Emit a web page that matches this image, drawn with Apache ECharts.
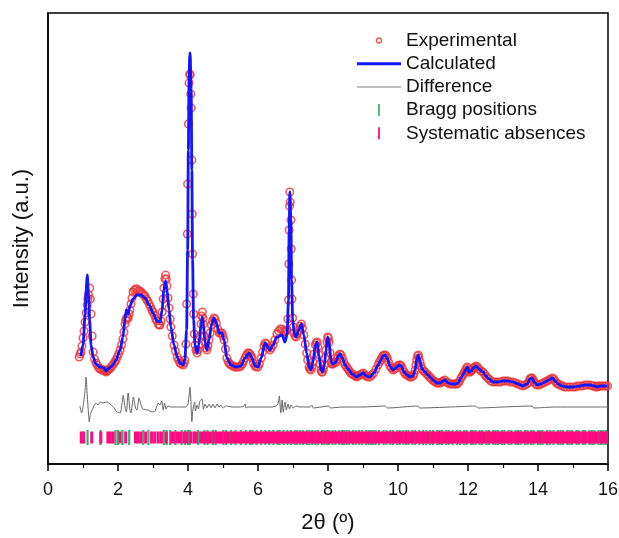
<!DOCTYPE html>
<html>
<head>
<meta charset="utf-8">
<script src="https://cdn.jsdelivr.net/npm/echarts@6/dist/echarts.min.js"></script>
<style>
  html, body { margin: 0; padding: 0; background: #fff; }
  #chart { width: 619px; height: 538px; }
</style>
</head>
<body>
<div id="chart"></div>
<script>
// Powder pattern: 2θ (degrees) against intensity (arbitrary units)
const calculated = [
  [0.94,108],[1.00,119],[1.06,149],[1.09,174],[1.12,189],[1.16,169],[1.19,144],[1.23,119],[1.29,107],[1.37,100],
  [1.49,97],[1.60,96],[1.66,93],[1.71,95],[1.83,98],[1.94,104],[2.06,114],[2.14,127],[2.20,144],[2.24,154],
  [2.29,150],[2.34,158],[2.43,165],[2.54,169],[2.66,169],[2.77,166],[2.89,159],[3.00,151],[3.11,143],[3.20,142],
  [3.26,154],[3.31,174],[3.36,183],[3.40,174],[3.46,154],[3.51,137],[3.60,119],[3.69,107],[3.77,101],[3.86,99],
  [3.91,104],[3.96,134],[3.99,214],[4.01,314],[4.03,384],[4.05,409],[4.06,411],[4.09,374],[4.11,294],[4.13,204],
  [4.16,144],[4.20,119],[4.26,111],[4.31,119],[4.37,139],[4.41,147],[4.44,139],[4.49,121],[4.54,114],[4.60,124],
  [4.67,139],[4.74,146],[4.81,141],[4.89,131],[4.97,131],[5.03,124],[5.11,106],[5.23,99],[5.37,97],[5.51,98],
  [5.63,106],[5.74,111],[5.83,106],[5.91,98],[6.00,97],[6.09,106],[6.20,121],[6.34,114],[6.43,119],[6.54,127],
  [6.69,129],[6.77,122],[6.83,129],[6.87,164],[6.89,234],[6.91,272],[6.94,244],[6.96,184],[6.99,146],[7.03,131],
  [7.09,127],[7.16,134],[7.24,140],[7.31,129],[7.39,111],[7.46,97],[7.51,94],[7.57,102],[7.64,119],[7.69,122],
  [7.74,109],[7.80,94],[7.84,92],[7.90,99],[7.94,114],[7.99,127],[8.03,122],[8.09,102],[8.14,100],[8.23,102],
  [8.29,108],[8.34,110],[8.41,106],[8.49,99],[8.57,95],[8.69,90],[8.82,87],[8.91,89],[9.01,91],[9.09,88],
  [9.20,87],[9.31,91],[9.43,99],[9.51,104],[9.57,108],[9.63,109],[9.69,106],[9.77,98],[9.86,94],[9.94,96],
  [10.03,99],[10.09,98],[10.17,92],[10.26,89],[10.34,87],[10.43,88],[10.49,94],[10.53,104],[10.58,109],[10.63,102],
  [10.69,95],[10.77,92],[10.86,89],[10.94,86],[11.03,83],[11.11,81],[11.20,81],[11.29,83],[11.34,84],[11.43,81],
  [11.53,80],[11.63,80],[11.72,81],[11.80,86],[11.87,90],[11.93,94],[11.98,97],[12.03,92],[12.09,93],[12.16,96],
  [12.23,98],[12.31,95],[12.43,92],[12.51,88],[12.60,85],[12.71,82],[12.86,82],[13.00,83],[13.14,83],[13.29,82],
  [13.43,80],[13.57,78],[13.69,80],[13.77,85],[13.83,86],[13.89,82],[13.97,79],[14.09,80],[14.20,82],[14.31,84],
  [14.41,86],[14.49,83],[14.57,80],[14.69,78],[14.83,77],[15.00,77],[15.20,78],[15.34,79],[15.49,79],[15.60,78],
  [15.69,77],[15.77,78],[15.89,78],[15.97,78]
];

const experimental = [
  [0.89,107],[0.92,110],[0.94,112],[0.97,118],[1.00,126],[1.03,133],[1.06,142],[1.09,151],[1.12,159],[1.14,165],
  [1.16,169],[1.19,176],[1.21,165],[1.23,150],[1.26,128],[1.29,112],[1.33,105],[1.37,101],[1.41,99],[1.45,96],
  [1.49,95],[1.53,94],[1.57,94],[1.60,94],[1.63,93],[1.66,92],[1.69,93],[1.71,94],[1.75,95],[1.79,96],
  [1.83,98],[1.87,100],[1.91,102],[1.94,104],[1.98,107],[2.02,110],[2.06,114],[2.10,119],[2.14,125],[2.17,132],
  [2.20,140],[2.22,144],[2.24,146],[2.27,146],[2.29,146],[2.32,150],[2.34,154],[2.37,160],[2.40,166],[2.43,172],
  [2.47,174],[2.51,175],[2.54,175],[2.58,173],[2.62,173],[2.66,172],[2.70,170],[2.74,169],[2.77,168],[2.81,165],
  [2.85,163],[2.89,160],[2.93,157],[2.97,154],[3.00,152],[3.04,149],[3.08,145],[3.11,143],[3.15,140],[3.18,139],
  [3.20,139],[3.23,143],[3.26,152],[3.29,165],[3.31,176],[3.34,185],[3.36,189],[3.38,185],[3.40,178],[3.43,166],
  [3.46,156],[3.49,145],[3.51,137],[3.55,128],[3.60,119],[3.64,113],[3.69,107],[3.73,104],[3.77,101],[3.81,100],
  [3.86,99],[3.89,101],[3.91,104],[3.94,120],[3.96,160],[3.98,230],[3.99,280],[4.01,340],[4.03,381],[4.05,390],
  [4.06,389],[4.08,370],[4.09,356],[4.11,304],[4.12,250],[4.13,210],[4.15,170],[4.16,150],[4.18,130],[4.20,119],
  [4.23,114],[4.26,111],[4.28,114],[4.31,119],[4.34,128],[4.37,140],[4.39,148],[4.41,152],[4.43,146],[4.44,140],
  [4.47,128],[4.49,121],[4.52,116],[4.54,114],[4.57,118],[4.60,124],[4.63,131],[4.67,139],[4.70,143],[4.74,146],
  [4.77,145],[4.81,141],[4.85,135],[4.89,131],[4.93,131],[4.97,131],[5.00,128],[5.03,124],[5.07,115],[5.11,106],
  [5.15,102],[5.19,100],[5.23,99],[5.28,98],[5.33,97],[5.37,97],[5.42,97],[5.47,97],[5.51,98],[5.55,100],
  [5.59,103],[5.63,106],[5.67,109],[5.71,111],[5.74,111],[5.77,110],[5.80,108],[5.83,106],[5.87,101],[5.91,98],
  [5.95,97],[6.00,97],[6.04,100],[6.09,106],[6.13,112],[6.17,118],[6.20,121],[6.24,120],[6.29,116],[6.34,114],
  [6.38,116],[6.43,119],[6.48,124],[6.54,130],[6.59,133],[6.64,135],[6.69,135],[6.73,133],[6.77,132],[6.80,133],
  [6.83,134],[6.85,145],[6.87,164],[6.88,200],[6.89,234],[6.90,258],[6.91,272],[6.92,262],[6.94,244],[6.95,215],
  [6.96,184],[6.97,165],[6.99,146],[7.01,137],[7.03,131],[7.06,128],[7.09,127],[7.12,130],[7.16,134],[7.20,138],
  [7.24,140],[7.27,136],[7.31,129],[7.35,120],[7.39,111],[7.42,104],[7.46,97],[7.48,95],[7.51,94],[7.54,97],
  [7.57,102],[7.60,110],[7.64,119],[7.66,121],[7.69,122],[7.71,117],[7.74,109],[7.77,100],[7.80,94],[7.82,92],
  [7.84,92],[7.87,95],[7.90,99],[7.92,106],[7.94,114],[7.97,122],[7.99,127],[8.01,126],[8.03,122],[8.06,111],
  [8.09,102],[8.11,100],[8.14,100],[8.18,101],[8.23,102],[8.26,105],[8.29,108],[8.34,110],[8.37,109],[8.41,106],
  [8.45,102],[8.49,99],[8.53,97],[8.57,95],[8.61,93],[8.65,91],[8.69,90],[8.73,89],[8.78,88],[8.82,87],
  [8.86,88],[8.91,89],[8.96,90],[9.01,91],[9.05,89],[9.09,88],[9.14,87],[9.20,87],[9.25,89],[9.31,91],
  [9.37,95],[9.43,99],[9.47,102],[9.51,104],[9.54,106],[9.57,108],[9.60,109],[9.63,109],[9.66,108],[9.69,106],
  [9.73,102],[9.77,98],[9.81,96],[9.86,94],[9.90,95],[9.94,96],[9.98,98],[10.03,99],[10.06,99],[10.09,98],
  [10.13,95],[10.17,92],[10.21,90],[10.26,89],[10.30,88],[10.34,87],[10.38,87],[10.43,88],[10.46,90],[10.49,94],
  [10.51,99],[10.53,104],[10.56,108],[10.58,109],[10.60,106],[10.63,102],[10.66,98],[10.69,95],[10.73,93],[10.77,92],
  [10.82,90],[10.86,89],[10.90,87],[10.94,86],[10.98,84],[11.03,83],[11.07,82],[11.11,81],[11.16,81],[11.20,81],
  [11.25,82],[11.29,83],[11.34,84],[11.38,82],[11.43,81],[11.48,80],[11.53,80],[11.58,80],[11.63,80],[11.68,80],
  [11.72,81],[11.76,83],[11.80,86],[11.84,88],[11.87,90],[11.90,92],[11.93,94],[11.96,96],[11.98,97],[12.01,94],
  [12.03,92],[12.06,92],[12.09,93],[12.12,94],[12.16,96],[12.20,97],[12.23,98],[12.27,97],[12.31,95],[12.37,93],
  [12.43,92],[12.47,90],[12.51,88],[12.56,86],[12.60,85],[12.65,83],[12.71,82],[12.78,82],[12.86,82],[12.93,82],
  [13.00,83],[13.07,83],[13.14,83],[13.21,82],[13.29,82],[13.36,81],[13.43,80],[13.50,79],[13.57,78],[13.63,79],
  [13.69,80],[13.73,82],[13.77,85],[13.80,86],[13.83,86],[13.86,84],[13.89,82],[13.93,80],[13.97,79],[14.03,79],
  [14.09,80],[14.15,81],[14.20,82],[14.26,83],[14.31,84],[14.36,85],[14.41,86],[14.45,85],[14.49,83],[14.53,81],
  [14.57,80],[14.63,79],[14.69,78],[14.76,77],[14.83,77],[14.91,77],[15.00,77],[15.07,77],[15.13,78],[15.20,78],
  [15.27,78],[15.34,79],[15.41,79],[15.49,79],[15.55,78],[15.60,78],[15.65,77],[15.69,77],[15.73,78],[15.77,78],
  [15.83,78],[15.89,78],[15.94,78],[15.99,78]
];

// Observed minus calculated, drawn on its own offset baseline
const difference = [
  [0.91,58],[0.96,51],[1.01,59],[1.06,74],[1.09,87],[1.12,69],[1.16,49],[1.18,42],[1.21,50],[1.26,54],
  [1.31,58],[1.37,61],[1.43,59],[1.49,62],[1.57,61],[1.69,62],[1.77,60],[1.89,56],[1.97,52],[2.06,51],
  [2.11,59],[2.15,69],[2.20,57],[2.24,52],[2.29,71],[2.34,54],[2.37,51],[2.44,67],[2.50,56],[2.54,54],
  [2.60,66],[2.66,59],[2.71,55],[2.86,54],[2.97,52],[3.06,53],[3.11,58],[3.15,61],[3.20,59],[3.25,63],
  [3.29,54],[3.33,61],[3.37,55],[3.43,58],[3.49,57],[3.63,57],[3.83,57],[3.94,57],[4.00,60],[4.06,77],
  [4.11,42],[4.14,54],[4.19,62],[4.21,53],[4.26,59],[4.30,55],[4.34,63],[4.40,65],[4.44,55],[4.49,60],
  [4.54,56],[4.60,60],[4.66,56],[4.71,60],[4.77,56],[4.83,60],[4.89,57],[4.94,59],[5.00,56],[5.09,58],
  [5.26,57],[5.49,57],[5.60,58],[5.63,60],[5.66,56],[5.71,57],[6.06,57],[6.40,57],[6.51,58],[6.57,60],
  [6.61,68],[6.65,51],[6.69,64],[6.72,52],[6.77,62],[6.81,54],[6.86,60],[6.90,55],[6.94,59],[7.00,56],
  [7.09,58],[7.20,57],[7.49,57],[7.54,59],[7.58,56],[7.80,57],[8.02,58],[8.06,56],[8.40,57],[9.00,57],
  [9.62,58],[9.70,56],[10.57,58],[10.62,56],[11.50,57],[12.20,58],[12.30,56],[13.00,57],[13.83,58],[13.88,56],
  [14.50,57],[15.20,57],[16.00,57]
];

// Reflection markers (2θ positions)
const braggPositions = [
  1.13, 1.50, 1.93, 2.00, 2.13, 2.32, 2.72, 2.87, 3.31, 3.39, 3.49, 3.64, 3.82, 3.92, 4.00, 4.05, 4.29, 4.47, 4.56,
  4.71, 4.79, 5.01, 5.09, 5.23, 5.36, 5.51, 5.65, 5.77, 5.84, 5.96, 6.09, 6.21, 6.32, 6.44, 6.56, 6.62, 6.73, 6.84,
  6.94, 7.05, 7.12, 7.21, 7.29, 7.40, 7.47, 7.55, 7.64, 7.71, 7.83, 7.90, 7.97, 8.03, 8.13, 8.21, 8.32, 8.40, 8.46,
  8.53, 8.60, 8.71, 8.79, 8.89, 8.97, 9.09, 9.16, 9.22, 9.29, 9.36, 9.46, 9.59, 9.67, 9.78, 9.85, 9.98, 10.05, 10.15,
  10.23, 10.30, 10.41, 10.49, 10.61, 10.72, 10.81, 10.92, 11.00, 11.12, 11.19, 11.26, 11.38, 11.45, 11.56, 11.69,
  11.77, 11.89, 11.96, 12.09, 12.15, 12.22, 12.33, 12.40, 12.53, 12.60, 12.72, 12.79, 12.86, 12.97, 13.04, 13.16,
  13.24, 13.36, 13.43, 13.50, 13.63, 13.70, 13.80, 13.87, 14.00, 14.07, 14.13, 14.26, 14.34, 14.44, 14.57, 14.64,
  14.71, 14.84, 14.90, 14.97, 15.10, 15.16, 15.28, 15.35, 15.47, 15.54, 15.61, 15.73, 15.80, 15.87, 15.94
];

const absencePositions = [
  0.95, 1.02, 1.25, 1.51, 1.71, 1.78, 1.86, 2.06, 2.22, 2.50, 2.57, 2.65, 2.79, 2.96, 3.05, 3.15, 3.24, 3.38, 3.53,
  3.60, 3.70, 3.78, 3.88, 3.97, 4.08, 4.17, 4.24, 4.36, 4.44, 4.52, 4.60, 4.66, 4.75, 4.83, 4.90, 4.97, 5.06, 5.12,
  5.18, 5.27, 5.33, 5.40, 5.47, 5.55, 5.61, 5.68, 5.74, 5.80, 5.87, 5.93, 5.99, 6.05, 6.12, 6.18, 6.24, 6.29, 6.35,
  6.41, 6.47, 6.53, 6.58, 6.64, 6.70, 6.75, 6.81, 6.87, 6.92, 6.97,
  7.02, 7.07, 7.15, 7.19, 7.26, 7.33, 7.36, 7.44, 7.50, 7.57, 7.61, 7.69, 7.75, 7.80, 7.88, 7.92, 7.99, 8.06, 8.10,
  8.18, 8.25, 8.29, 8.37, 8.42, 8.50, 8.55, 8.63, 8.68, 8.74, 8.82, 8.86, 8.94, 9.01, 9.05, 9.13, 9.19, 9.24, 9.32,
  9.38, 9.43, 9.51, 9.56, 9.64, 9.70, 9.74, 9.82, 9.88, 9.93, 10.01, 10.07, 10.12, 10.20, 10.25, 10.33, 10.39, 10.44,
  10.52, 10.57, 10.65, 10.70, 10.76, 10.84, 10.89, 10.97, 11.02, 11.08, 11.16, 11.21, 11.29, 11.34, 11.41, 11.48,
  11.53, 11.61, 11.66, 11.73, 11.80, 11.85, 11.93, 11.98, 12.05, 12.12, 12.17, 12.25, 12.30, 12.37, 12.44, 12.49,
  12.57, 12.62, 12.69, 12.76, 12.81, 12.89, 12.94, 13.01, 13.08, 13.13, 13.21, 13.26, 13.33, 13.40, 13.45, 13.53,
  13.58, 13.65, 13.72, 13.77, 13.85, 13.90, 13.97, 14.04, 14.09, 14.17, 14.22, 14.29, 14.36, 14.41, 14.49, 14.54,
  14.61, 14.68, 14.73, 14.81, 14.86, 14.93, 15.00, 15.05, 15.13, 15.18, 15.25, 15.32, 15.37, 15.45, 15.50, 15.57,
  15.64, 15.69, 15.77, 15.82, 15.89, 15.96
];

// Vertical extent of each marker row, in intensity units
const braggRow = [19, 34];
const absenceRow = [20.5, 32.5];

const FONT = '"Liberation Sans", Arial, Helvetica, sans-serif';
const RED = '#ee3535';
const BLUE = '#1414ff';
const GREEN = '#35b36e';
const PINK = '#ff0a80';

function markerRenderer(row, width) {
  return function (params, api) {
    const x = api.value(0);
    const top = api.coord([x, row[1]]);
    const bottom = api.coord([x, row[0]]);
    return {
      type: 'rect',
      shape: { x: top[0] - width / 2, y: top[1], width: width, height: bottom[1] - top[1] },
      style: { fill: api.visual('color') }
    };
  };
}

const chart = echarts.init(document.getElementById('chart'), null, { renderer: 'canvas' });

chart.setOption({
  animation: false,
  backgroundColor: '#ffffff',
  textStyle: { fontFamily: FONT },
  grid: {
    left: 48, right: 11, top: 13, bottom: 74,
    outerBoundsMode: 'none',
    containLabel: false,
    show: true, borderColor: '#000', borderWidth: 1.5, backgroundColor: 'transparent'
  },
  legend: {
    orient: 'vertical',
    left: 357,
    top: 31,
    padding: 0,
    itemWidth: 44,
    itemHeight: 12,
    itemGap: 4.2,
    textStyle: { fontFamily: FONT, fontSize: 19, color: '#111', lineHeight: 18.5 },
    data: [
      {
        name: 'Experimental',
        icon: 'path://M0,0M12,12M6,3.5A2.5,2.5,0,1,1,6,8.5A2.5,2.5,0,1,1,6,3.5Z',
        itemStyle: { color: 'rgba(0,0,0,0)', borderColor: RED, borderWidth: 1.4 }
      },
      { name: 'Calculated', icon: 'path://M0,0H44V3H0Z', itemStyle: { color: BLUE } },
      { name: 'Difference', icon: 'path://M0,0H44V1H0Z', itemStyle: { color: '#808080' } },
      { name: 'Bragg positions', icon: 'path://M0,0H1.6V11H0Z' },
      { name: 'Systematic absences', icon: 'path://M0,0H1.6V11H0Z' }
    ]
  },
  xAxis: {
    type: 'value',
    min: 0, max: 16, interval: 2,
    name: '2θ (º)',
    nameLocation: 'middle',
    nameGap: 48,
    nameTextStyle: { fontFamily: FONT, fontSize: 22, color: '#111' },
    axisLine: { show: true, lineStyle: { color: '#000', width: 1.5 } },
    axisTick: { show: true, inside: false, length: 7, lineStyle: { color: '#000', width: 1.5 } },
    minorTick: { show: true, splitNumber: 2, length: 4, lineStyle: { color: '#000', width: 1.2 } },
    axisLabel: { fontFamily: FONT, fontSize: 18, color: '#111', margin: 17 },
    splitLine: { show: false }
  },
  yAxis: {
    type: 'value',
    min: 0, max: 451,
    name: 'Intensity (a.u.)',
    nameLocation: 'middle',
    nameGap: 15,
    nameRotate: 90,
    nameTextStyle: { fontFamily: FONT, fontSize: 22, color: '#111' },
    axisLine: { show: true, lineStyle: { color: '#000', width: 1.5 } },
    axisTick: { show: false },
    axisLabel: { show: false },
    splitLine: { show: false }
  },
  series: [
    {
      name: 'Bragg positions',
      type: 'custom',
      silent: true,
      itemStyle: { color: GREEN },
      data: braggPositions.map(p => [p, 0]),
      encode: { x: 0, y: 1 },
      renderItem: markerRenderer(braggRow, 2.2),
      z: 2
    },
    {
      name: 'Systematic absences',
      type: 'custom',
      silent: true,
      itemStyle: { color: PINK },
      data: absencePositions.map(p => [p, 0]),
      encode: { x: 0, y: 1 },
      renderItem: markerRenderer(absenceRow, 3),
      z: 3
    },
    {
      name: 'Difference',
      type: 'line',
      data: difference,
      showSymbol: false,
      symbol: 'none',
      smooth: 0.2,
      lineStyle: { color: '#666666', width: 1 },
      itemStyle: { color: '#666666' },
      z: 4
    },
    {
      name: 'Experimental',
      type: 'scatter',
      data: experimental,
      symbol: 'circle',
      symbolSize: 7.5,
      silent: true,
      itemStyle: { color: 'rgba(0,0,0,0)', borderColor: RED, borderWidth: 1.6 },
      z: 5
    },
    {
      name: 'Calculated',
      type: 'line',
      data: calculated,
      showSymbol: false,
      symbol: 'none',
      smooth: 0.3,
      smoothMonotone: 'x',
      lineStyle: { color: BLUE, width: 2.8 },
      itemStyle: { color: BLUE },
      z: 6
    }
  ]
});
</script>
</body>
</html>
